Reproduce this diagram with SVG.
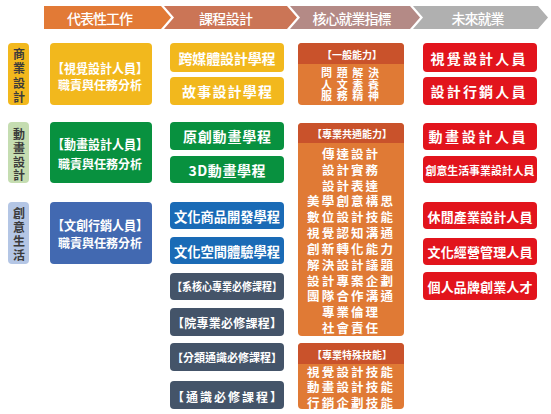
<svg xmlns="http://www.w3.org/2000/svg" width="551" height="414" viewBox="0 0 551 414">
<style>
text{font-family:"Noto Sans CJK TC","Noto Sans CJK SC",sans-serif;text-anchor:middle;dominant-baseline:central}
.w{fill:#fff;font-weight:700}
.hd{fill:#fff;font-size:14px;font-weight:500}
.side{fill:#3b3b3b;font-size:12px;font-weight:700}
.yel{fill:#F2B81D}.grn{fill:#08913F}.nblu{fill:#4269B1}.cblu{fill:#1A6BB6}.slate{fill:#445469}.red{fill:#E2141C}
.org{fill:#E07A35}.orgh{fill:#C9522B}
</style>
<g id="header">
<path d="M44,6 L161,6 L171,17.5 L161,29 L44,29 Z" fill="#E27A36"/>
<path d="M164,6 L287,6 L297,17.5 L287,29 L164,29 L174,17.5 Z" fill="#CB7556"/>
<path d="M290,6 L410,6 L420,17.5 L410,29 L290,29 L300,17.5 Z" fill="#B48A86"/>
<path d="M413,6 L538,6 L548,17.5 L538,29 L413,29 L423,17.5 Z" fill="#B0B0B0"/>
<text class="hd" x="100" y="18" textLength="66" lengthAdjust="spacing">代表性工作</text>
<text class="hd" x="226" y="18" textLength="54" lengthAdjust="spacing">課程設計</text>
<text class="hd" x="352" y="18" textLength="79" lengthAdjust="spacing">核心就業指標</text>
<text class="hd" x="478" y="18" textLength="53" lengthAdjust="spacing">未來就業</text>
</g>
<g id="side-business">
<rect x="8" y="43" width="21" height="62" rx="4" class="yel"/>
<text class="side"><tspan x="19" y="53">商</tspan><tspan x="19" y="67">業</tspan><tspan x="19" y="82">設</tspan><tspan x="19" y="96">計</tspan></text>
</g>
<g id="side-animation">
<rect x="8" y="122" width="21" height="61" rx="4" fill="#C5DDB1"/>
<text class="side"><tspan x="19" y="133">動</tspan><tspan x="19" y="147">畫</tspan><tspan x="19" y="160.5">設</tspan><tspan x="19" y="174">計</tspan></text>
</g>
<g id="side-creative">
<rect x="8" y="202" width="21" height="62" rx="4" fill="#B4C6E5"/>
<text class="side"><tspan x="19" y="212">創</tspan><tspan x="19" y="226">意</tspan><tspan x="19" y="240">生</tspan><tspan x="19" y="254">活</tspan></text>
</g>
<g id="node-visual">
<rect x="50" y="43" width="102" height="62" rx="4" class="yel"/>
<text class="w" x="100" y="67" font-size="13" textLength="96" lengthAdjust="spacingAndGlyphs">【視覺設計人員】</text>
<text class="w" x="100" y="84" font-size="12" textLength="84" lengthAdjust="spacing">職責與任務分析</text>
</g>
<g id="node-animation">
<rect x="50" y="122" width="102" height="61" rx="4" class="grn"/>
<text class="w" x="100" y="143" font-size="13" textLength="96" lengthAdjust="spacingAndGlyphs">【動畫設計人員】</text>
<text class="w" x="100" y="163" font-size="12" textLength="84" lengthAdjust="spacing">職責與任務分析</text>
</g>
<g id="node-marketing">
<rect x="50" y="202" width="102" height="62" rx="4" class="nblu"/>
<text class="w" x="100" y="224" font-size="13" textLength="96" lengthAdjust="spacingAndGlyphs">【文創行銷人員】</text>
<text class="w" x="100" y="242" font-size="12" textLength="84" lengthAdjust="spacing">職責與任務分析</text>
</g>
<g id="course-1"><rect x="170" y="43" width="114" height="29" rx="4" class="yel"/><text class="w" x="227" y="58" font-size="14" textLength="97" lengthAdjust="spacing">跨媒體設計學程</text></g>
<g id="course-2"><rect x="170" y="77" width="114" height="28" rx="4" class="yel"/><text class="w" x="227" y="91" font-size="14" textLength="90" lengthAdjust="spacing">故事設計學程</text></g>
<g id="course-3"><rect x="170" y="122" width="114" height="28" rx="4" class="grn"/><text class="w" x="227" y="136" font-size="14" textLength="88" lengthAdjust="spacing">原創動畫學程</text></g>
<g id="course-4"><rect x="170" y="156" width="114" height="27" rx="4" class="grn"/><text class="w" x="227" y="170" font-size="14" textLength="77" lengthAdjust="spacing">3D動畫學程</text></g>
<g id="course-5"><rect x="170" y="202" width="114" height="27" rx="4" class="cblu"/><text class="w" x="227" y="216" font-size="13.5" textLength="106" lengthAdjust="spacingAndGlyphs">文化商品開發學程</text></g>
<g id="course-6"><rect x="170" y="237" width="114" height="27" rx="4" class="cblu"/><text class="w" x="227" y="251" font-size="13.5" textLength="106" lengthAdjust="spacingAndGlyphs">文化空間體驗學程</text></g>
<g id="course-7"><rect x="170" y="273" width="114" height="27" rx="4" class="slate"/><text class="w" x="227" y="286" font-size="11" textLength="110" lengthAdjust="spacingAndGlyphs">【系核心專業必修課程】</text></g>
<g id="course-8"><rect x="170" y="308" width="114" height="28" rx="4" class="slate"/><text class="w" x="227" y="322" font-size="12" textLength="110" lengthAdjust="spacing">【院專業必修課程】</text></g>
<g id="course-9"><rect x="170" y="343" width="114" height="28" rx="4" class="slate"/><text class="w" x="227" y="357" font-size="11" textLength="110" lengthAdjust="spacing">【分類通識必修課程】</text></g>
<g id="course-10"><rect x="170" y="381" width="114" height="28" rx="4" class="slate"/><text class="w" x="227" y="396" font-size="12" textLength="110" lengthAdjust="spacing">【通識必修課程】</text></g>
<g id="core-general">
<rect x="298" y="43" width="106" height="62" rx="4" class="org"/>
<path d="M298,64 L298,47 Q298,43 302,43 L400,43 Q404,43 404,47 L404,64 Z" class="orgh"/>
<text class="w" x="352" y="54.5" font-size="10" textLength="60" lengthAdjust="spacing">【一般能力】</text>
<text class="w" font-size="11"><tspan x="350" y="72" textLength="58" lengthAdjust="spacing">問題解決</tspan><tspan x="350" y="83.5" textLength="58" lengthAdjust="spacing">人文素養</tspan><tspan x="350" y="95" textLength="58" lengthAdjust="spacing">服務精神</tspan></text>
</g>
<g id="core-common">
<rect x="298" y="123" width="106" height="213" rx="4" class="org"/>
<path d="M298,143 L298,127 Q298,123 302,123 L400,123 Q404,123 404,127 L404,143 Z" class="orgh"/>
<text class="w" x="352" y="133.5" font-size="10" textLength="80" lengthAdjust="spacing">【專業共通能力】</text>
<text class="w" font-size="12.5"><tspan x="350" y="153" textLength="56" lengthAdjust="spacing">傳達設計</tspan><tspan x="350" y="169" textLength="56" lengthAdjust="spacing">設計實務</tspan><tspan x="350" y="185" textLength="56" lengthAdjust="spacing">設計表達</tspan><tspan x="350" y="200" textLength="86" lengthAdjust="spacing">美學創意構思</tspan><tspan x="350" y="216" textLength="86" lengthAdjust="spacing">數位設計技能</tspan><tspan x="350" y="232" textLength="86" lengthAdjust="spacing">視覺認知溝通</tspan><tspan x="350" y="248" textLength="86" lengthAdjust="spacing">創新轉化能力</tspan><tspan x="350" y="264" textLength="86" lengthAdjust="spacing">解決設計議題</tspan><tspan x="350" y="280" textLength="86" lengthAdjust="spacing">設計專案企劃</tspan><tspan x="350" y="295" textLength="86" lengthAdjust="spacing">團隊合作溝通</tspan><tspan x="350" y="311" textLength="56" lengthAdjust="spacing">專業倫理</tspan><tspan x="350" y="327" textLength="56" lengthAdjust="spacing">社會責任</tspan></text>
</g>
<g id="core-special">
<rect x="298" y="343" width="106" height="66" rx="4" class="org"/>
<path d="M298,364 L298,347 Q298,343 302,343 L400,343 Q404,343 404,347 L404,364 Z" class="orgh"/>
<text class="w" x="352" y="354" font-size="10" textLength="80" lengthAdjust="spacing">【專業特殊技能】</text>
<text class="w" font-size="12.5"><tspan x="350" y="370.5" textLength="86" lengthAdjust="spacing">視覺設計技能</tspan><tspan x="350" y="386" textLength="86" lengthAdjust="spacing">動畫設計技能</tspan><tspan x="350" y="402" textLength="86" lengthAdjust="spacing">行銷企劃技能</tspan></text>
</g>
<g id="job-1"><rect x="423" y="43" width="114" height="29" rx="4" class="red"/><text class="w" x="478" y="58" font-size="14" textLength="95" lengthAdjust="spacing">視覺設計人員</text></g>
<g id="job-2"><rect x="423" y="77" width="114" height="28" rx="4" class="red"/><text class="w" x="478" y="91" font-size="14" textLength="95" lengthAdjust="spacing">設計行銷人員</text></g>
<g id="job-3"><rect x="423" y="123" width="114" height="27" rx="4" class="red"/><text class="w" x="477" y="136" font-size="14" textLength="97" lengthAdjust="spacing">動畫設計人員</text></g>
<g id="job-4"><rect x="423" y="156" width="114" height="27" rx="4" class="red"/><text class="w" x="480" y="170" font-size="11" textLength="109" lengthAdjust="spacingAndGlyphs">創意生活事業設計人員</text></g>
<g id="job-5"><rect x="423" y="202" width="114" height="27" rx="4" class="red"/><text class="w" x="480" y="216" font-size="13" textLength="105" lengthAdjust="spacing">休閒產業設計人員</text></g>
<g id="job-6"><rect x="423" y="238" width="114" height="27" rx="4" class="red"/><text class="w" x="480" y="251" font-size="13" textLength="105" lengthAdjust="spacing">文化經營管理人員</text></g>
<g id="job-7"><rect x="423" y="272" width="114" height="28" rx="4" class="red"/><text class="w" x="480" y="286" font-size="13" textLength="105" lengthAdjust="spacing">個人品牌創業人才</text></g>
<g id="connectors"/>
</svg>
